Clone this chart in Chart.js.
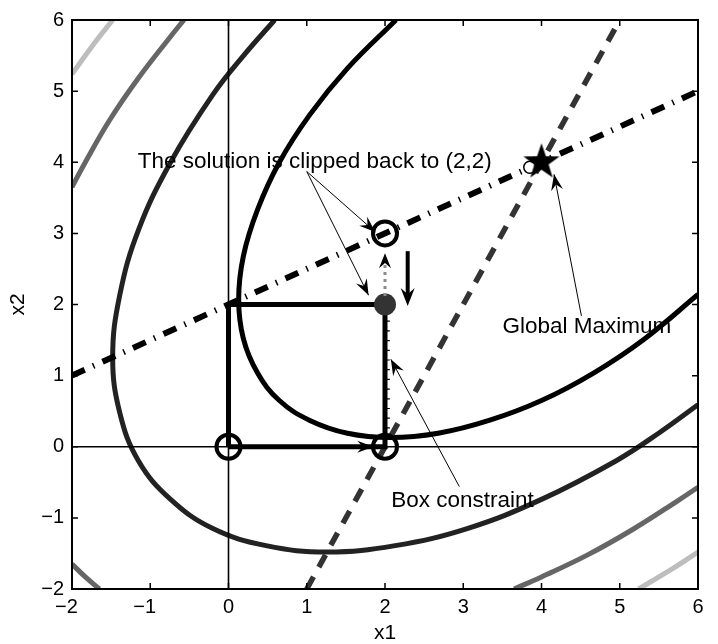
<!DOCTYPE html>
<html>
<head>
<meta charset="utf-8">
<script src="https://cdn.jsdelivr.net/npm/chart.js@4/dist/chart.umd.min.js"></script>
<style>
  html, body { margin: 0; padding: 0; background: #fff; }
  #chart { display: block; }
</style>
</head>
<body>
<canvas id="chart" width="718" height="644"></canvas>
<script>
// axis range / ticks
const axisMin = -2;
const axisMax = 6;
const tickStep = 1;

// contour curves, as [x1, x2]
const contourInner = [[6.00, 2.14], [5.32, 1.52], [4.67, 1.04], [4.00, 0.65], [3.33, 0.37], [2.68, 0.19], [2.07, 0.13],
  [1.52, 0.19], [1.04, 0.37], [0.65, 0.65], [0.37, 1.04], [0.19, 1.52], [0.13, 2.07], [0.19, 2.68], [0.37, 3.33],
  [0.65, 4.00], [1.04, 4.67], [1.52, 5.32], [2.14, 6.00]];
const contourSecond = [[6.00, 0.59], [5.51, 0.20], [4.95, -0.20], [4.00, -0.74], [3.05, -1.15], [2.13, -1.39], [1.26, -1.48],
  [0.48, -1.39], [-0.20, -1.15], [-0.74, -0.74], [-1.15, -0.20], [-1.39, 0.48], [-1.48, 1.26], [-1.39, 2.13],
  [-1.15, 3.05], [-0.74, 4.00], [-0.20, 4.95], [0.20, 5.51], [0.59, 6.00]];
const contourThirdTop = [[-0.57, 6.00], [-0.76, 5.74], [-1.16, 5.17], [-1.52, 4.59], [-1.83, 4.00], [-2.00, 3.65]];
const contourThirdCorner = [[-2.00, -1.65], [-1.83, -1.83], [-1.65, -2.00]];
const contourThirdBottom = [[3.65, -2.00], [4.00, -1.83], [4.59, -1.52], [5.17, -1.16], [5.74, -0.76], [6.00, -0.57]];
const contourFourthTop = [[-1.48, 6.00], [-1.71, 5.68], [-2.00, 5.24]];
const contourFourthBottom = [[5.24, -2.00], [5.68, -1.71], [6.00, -1.48]];

// straight lines
const dashDotLine = [[-2, 1], [6, 5]];
const dashedLine = [[1, -2], [5, 6]];
const zeroLineH = [[-2, 0], [6, 0]];
const zeroLineV = [[0, -2], [0, 6]];

// box constraint and iterates
const boxPath = [[0, 0], [0, 2], [2, 2], [2, 0], [0, 0]];
const boxTickLine = [[2.03, 0.12], [2.03, 1.95]];
const openCircles = [[0, 0], [2, 0], [2, 3]];
const clippedPoint = [[2, 2]];
const maxPoint = [[4, 4]];
const nearMaxPoint = [[3.85, 3.93]];

// notes: text and left/middle anchor
const noteText = ['The solution is clipped back to (2,2)', 'Global Maximum', 'Box constraint'];
const noteX = [-1.16, 3.5, 2.08];
const noteY = [4.0, 1.68, -0.76];

// thin annotation arrows [fromX, fromY, toX, toY]
const thinArrows = [[1.0, 3.87, 1.875, 3.02], [1.0, 3.87, 1.79, 2.13], [4.51, 1.84, 4.16, 3.83], [2.95, -0.56, 2.075, 1.23]];
// thick arrows
const stepArrow = [1.4, 0, 1.85, 0];
const downArrow = [2.29, 2.75, 2.29, 1.98];
const upArrow = [2, 2.12, 2, 2.72];

const FONT = '"Liberation Sans", Arial, Helvetica, sans-serif';

function pts(a) { return a.map(p => ({ x: p[0], y: p[1] })); }

function curve(data, color, width) {
  return { data: pts(data), showLine: true, borderColor: color, borderWidth: width, pointRadius: 0, tension: 0.4, clip: 0, fill: false };
}
function line(data, color, width, dash) {
  return { data: pts(data), showLine: true, borderColor: color, borderWidth: width, borderDash: dash || [], pointRadius: 0, tension: 0, clip: 0, fill: false };
}

// five pointed star marker
function starMarker(R, r) {
  const c = document.createElement('canvas');
  c.width = c.height = Math.ceil(2 * R + 4);
  const g = c.getContext('2d');
  const cx = c.width / 2, cy = c.height / 2;
  g.beginPath();
  for (let i = 0; i < 10; i++) {
    const rad = i % 2 ? r : R;
    const a = -Math.PI / 2 + i * Math.PI / 5;
    g.lineTo(cx + rad * Math.cos(a), cy + rad * Math.sin(a));
  }
  g.closePath();
  g.fillStyle = '#000';
  g.fill();
  return c;
}

// datasets, bottom to top
let datasets = [
  curve(contourFourthTop, '#bdbdbd', 5),
  curve(contourFourthBottom, '#bdbdbd', 5),
  curve(contourThirdTop, '#666666', 5),
  curve(contourThirdCorner, '#666666', 5),
  curve(contourThirdBottom, '#666666', 5),
  curve(contourSecond, '#222222', 5),
  curve(contourInner, '#000000', 5),
  line(zeroLineH, '#000', 1.6),
  line(zeroLineV, '#000', 1.6),
  line(dashedLine, '#333333', 5.5, [14, 11]),
  line(dashDotLine, '#000000', 6, [14, 9, 1.5, 9]),
  line(boxPath, '#000000', 5),
  line(boxTickLine, '#000000', 5, [1.2, 8.5]),
  { data: pts(openCircles), pointStyle: 'circle', pointRadius: 12, borderWidth: 4, borderColor: '#000', backgroundColor: 'rgba(0,0,0,0)', showLine: false },
  { data: pts(clippedPoint), pointStyle: 'circle', pointRadius: 11, borderWidth: 0, backgroundColor: '#333333', showLine: false },
  { data: pts(nearMaxPoint), pointStyle: 'circle', pointRadius: 6, borderWidth: 1.5, borderColor: '#000', backgroundColor: '#fff', showLine: false },
  { data: pts(maxPoint), pointStyle: starMarker(19, 7.5), pointRadius: 19, showLine: false }
];
datasets = datasets.map((d, i) => Object.assign(d, { order: -i }));

function tickLabel(v) {
  if (v < 0) return '\u2212' + (-v);
  return String(v);
}

function arrowHead(ctx, x0, y0, x1, y1, len, half) {
  const dx = x1 - x0, dy = y1 - y0;
  const l = Math.hypot(dx, dy);
  const ux = dx / l, uy = dy / l;
  const nx = -uy, ny = ux;
  ctx.beginPath();
  ctx.moveTo(x1, y1);
  ctx.lineTo(x1 - len * ux + half * nx, y1 - len * uy + half * ny);
  ctx.lineTo(x1 - 0.65 * len * ux, y1 - 0.65 * len * uy);
  ctx.lineTo(x1 - len * ux - half * nx, y1 - len * uy - half * ny);
  ctx.closePath();
  ctx.fill();
}

const notesPlugin = {
  id: 'notes',
  afterDatasetsDraw(chart) {
    const ctx = chart.ctx;
    const xs = chart.scales.x, ys = chart.scales.y;
    const px = v => xs.getPixelForValue(v);
    const py = v => ys.getPixelForValue(v);
    ctx.save();
    ctx.fillStyle = '#000';
    ctx.strokeStyle = '#000';

    // thin arrows
    ctx.lineWidth = 1;
    thinArrows.forEach(a => {
      const x0 = px(a[0]), y0 = py(a[1]), x1 = px(a[2]), y1 = py(a[3]);
      ctx.beginPath();
      ctx.moveTo(x0, y0);
      ctx.lineTo(x1, y1);
      ctx.stroke();
      arrowHead(ctx, x0, y0, x1, y1, 16, 6);
    });

    // step arrow head along the bottom
    arrowHead(ctx, px(stepArrow[0]), py(stepArrow[1]), px(stepArrow[2]), py(stepArrow[3]), 16, 6);

    // down arrow
    ctx.lineWidth = 4;
    ctx.beginPath();
    ctx.moveTo(px(downArrow[0]), py(downArrow[1]));
    ctx.lineTo(px(downArrow[2]), py(downArrow[3]) - 8);
    ctx.stroke();
    arrowHead(ctx, px(downArrow[0]), py(downArrow[1]), px(downArrow[2]), py(downArrow[3]), 18, 7);

    // dotted up arrow
    ctx.strokeStyle = '#8c8c8c';
    ctx.lineWidth = 3;
    ctx.setLineDash([3, 4]);
    ctx.beginPath();
    ctx.moveTo(px(upArrow[0]), py(upArrow[1]));
    ctx.lineTo(px(upArrow[2]), py(upArrow[3]) + 10);
    ctx.stroke();
    ctx.setLineDash([]);
    arrowHead(ctx, px(upArrow[0]), py(upArrow[1]), px(upArrow[2]), py(upArrow[3]), 15, 6);

    // text
    ctx.font = '22.5px ' + FONT;
    ctx.textAlign = 'left';
    ctx.textBaseline = 'middle';
    noteText.forEach((t, i) => ctx.fillText(t, px(noteX[i]), py(noteY[i])));
    ctx.restore();
  }
};

const framePlugin = {
  id: 'frame',
  afterDraw(chart) {
    const ctx = chart.ctx;
    const a = chart.chartArea;
    const xs = chart.scales.x, ys = chart.scales.y;
    const tl = 6;
    ctx.save();
    ctx.strokeStyle = '#000';
    ctx.lineWidth = 1.5;
    ctx.beginPath();
    xs.ticks.forEach(t => {
      const x = xs.getPixelForValue(t.value);
      ctx.moveTo(x, a.bottom); ctx.lineTo(x, a.bottom - tl);
      ctx.moveTo(x, a.top); ctx.lineTo(x, a.top + tl);
    });
    ys.ticks.forEach(t => {
      const y = ys.getPixelForValue(t.value);
      ctx.moveTo(a.left, y); ctx.lineTo(a.left + tl, y);
      ctx.moveTo(a.right, y); ctx.lineTo(a.right - tl, y);
    });
    ctx.stroke();
    ctx.lineWidth = 2;
    ctx.strokeRect(a.left, a.top, a.right - a.left, a.bottom - a.top);
    ctx.restore();
  }
};

new Chart(document.getElementById('chart'), {
  type: 'scatter',
  data: { datasets },
  options: {
    responsive: false,
    devicePixelRatio: 1,
    animation: false,
    events: [],
    layout: { padding: { top: 15, right: 6, left: 0, bottom: 0 } },
    plugins: { legend: { display: false }, tooltip: { enabled: false } },
    scales: {
      x: {
        type: 'linear', min: axisMin, max: axisMax,
        grid: { display: false, drawTicks: false },
        border: { display: false },
        ticks: {
          stepSize: tickStep, padding: 6, color: '#000', maxRotation: 0, autoSkip: false,
          font: { family: FONT, size: 20 },
          callback: v => (v < 0 ? tickLabel(v) + '\u2007' : tickLabel(v))
        },
        title: { display: true, text: 'x1', color: '#000', font: { family: FONT, size: 21, lineHeight: 1 }, padding: { top: 0, bottom: 0 } },
        afterFit: s => { s.height = 55; s.paddingLeft = 0; s.paddingRight = 0; }
      },
      y: {
        type: 'linear', min: axisMin, max: axisMax,
        grid: { display: false, drawTicks: false },
        border: { display: false },
        ticks: {
          stepSize: tickStep, padding: 8, color: '#000', autoSkip: false,
          font: { family: FONT, size: 20 },
          callback: v => tickLabel(v)
        },
        title: { display: true, text: 'x2', color: '#000', font: { family: FONT, size: 21, lineHeight: 1 }, padding: { top: 7.5, bottom: 0 } },
        afterFit: s => { s.width = 72; s.paddingTop = 0; s.paddingBottom = 0; }
      }
    }
  },
  plugins: [notesPlugin, framePlugin]
});
</script>
</body>
</html>
